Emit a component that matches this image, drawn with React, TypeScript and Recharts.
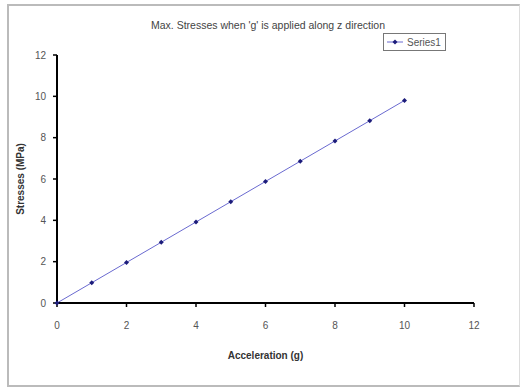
import React from "react";
import { LineChart, Line, XAxis, YAxis, Label } from "recharts";

const accel = [0, 1, 2, 3, 4, 5, 6, 7, 8, 9, 10];
const stress = [0, 0.98, 1.96, 2.94, 3.92, 4.9, 5.88, 6.86, 7.84, 8.82, 9.8];
const xTicks = [0, 2, 4, 6, 8, 10, 12];
const yTicks = [0, 2, 4, 6, 8, 10, 12];
const seriesName = "Series1";
const title = "Max. Stresses when 'g' is applied along z direction";

const data = accel.map((a, i) => ({ a, s: stress[i] }));

const FONT = "'Liberation Sans', Arial, sans-serif";

const Diamond = (props: any) => {
  const { cx, cy } = props;
  if (cx == null || cy == null) return null;
  const r = 2.5;
  return (
    <polygon
      points={`${cx},${cy - r} ${cx + r},${cy} ${cx},${cy + r} ${cx - r},${cy}`}
      fill="#1c1c7a"
      stroke="none"
    />
  );
};

const LegendBox = () => (
  <div
    style={{
      position: "absolute",
      left: 383,
      top: 33,
      border: "1px solid #777",
      background: "#fff",
      width: 63,
      height: 18,
      display: "flex",
      alignItems: "center",
      fontFamily: FONT,
      fontSize: 10,
      color: "#555",
      boxSizing: "border-box",
      paddingLeft: 3,
    }}
  >
    <svg width={18} height={8}>
      <line x1={0} y1={4} x2={16} y2={4} stroke="#6a6ad0" strokeWidth={1} />
      <polygon points="8,1.5 10.5,4 8,6.5 5.5,4" fill="#1c1c7a" />
    </svg>
    <span style={{ marginLeft: 2 }}>{seriesName}</span>
  </div>
);

export default function App() {
  return (
    <div
      style={{
        position: "absolute",
        left: 0,
        top: 0,
        width: 522,
        height: 387,
        background: "#fff",
      }}
    >
      <div
        style={{
          position: "absolute",
          left: 7,
          top: 4,
          width: 513,
          height: 383,
          borderTop: "2px solid #bbb",
          borderLeft: "2px solid #bbb",
          borderBottom: "2px solid #bbb",
          borderRight: "1px solid #ddd",
          boxSizing: "border-box",
        }}
      />
      <LineChart
        width={522}
        height={387}
        data={data}
        margin={{ top: 55, right: 48, bottom: 24, left: 17 }}
        style={{ position: "absolute", left: 0, top: 0 }}
      >
        <XAxis
          dataKey="a"
          type="number"
          domain={[0, 12]}
          ticks={xTicks}
          height={60}
          axisLine={{ stroke: "#000", strokeWidth: 2 }}
          tickLine={{ stroke: "#000", strokeWidth: 1.5 }}
          tickSize={4}
          tickMargin={15}
          tick={{ fill: "#555", fontSize: 10, fontFamily: FONT }}
        >
          <Label
            value="Acceleration (g)"
            position="insideBottom"
            offset={4}
            style={{ fill: "#333", fontSize: 10, fontFamily: FONT, fontWeight: "bold" }}
          />
        </XAxis>
        <YAxis
          type="number"
          domain={[0, 12]}
          ticks={yTicks}
          width={40}
          axisLine={{ stroke: "#000", strokeWidth: 2 }}
          tickLine={{ stroke: "#000", strokeWidth: 1.5 }}
          tickSize={4}
          tickMargin={7}
          tick={{ fill: "#555", fontSize: 10, fontFamily: FONT }}
        >
          <Label
            value="Stresses (MPa)"
            angle={-90}
            position="insideLeft"
            offset={3}
            style={{ textAnchor: "middle", fill: "#333", fontSize: 10, fontFamily: FONT, fontWeight: "bold" }}
          />
        </YAxis>
        <Line
          type="linear"
          dataKey="s"
          name={seriesName}
          stroke="#6a6ad0"
          strokeWidth={1}
          dot={<Diamond />}
          isAnimationActive={false}
        />
      </LineChart>
      <div
        style={{
          position: "absolute",
          left: 68,
          width: 400,
          top: 19,
          textAlign: "center",
          fontFamily: FONT,
          fontSize: 10.5,
          color: "#444",
          whiteSpace: "nowrap",
        }}
      >
        {title}
      </div>
      <LegendBox />
    </div>
  );
}
